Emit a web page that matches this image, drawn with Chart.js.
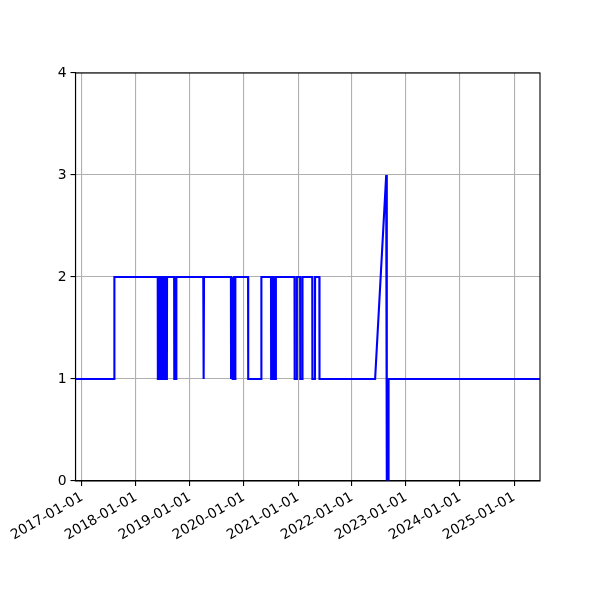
<!DOCTYPE html>
<html>
<head>
<meta charset="utf-8">
<script src="https://cdn.jsdelivr.net/npm/chart.js@4/dist/chart.umd.min.js"></script>
<style>
html,body{margin:0;padding:0;background:#fff;}
#wrap{width:600px;height:600px;}
</style>
</head>
<body>
<div id="wrap"><canvas id="c" width="600" height="600"></canvas></div>
<script>
// ---- data ----
const dates = [
  "2016-11-18","2017-08-07","2017-08-08",
  "2018-05-28","2018-05-29","2018-06-04","2018-06-05","2018-06-08","2018-06-09",
  "2018-06-15","2018-06-16","2018-06-20","2018-06-21","2018-06-30","2018-07-01",
  "2018-07-04","2018-07-05","2018-07-12","2018-07-13","2018-07-18","2018-07-19",
  "2018-07-29","2018-07-30",
  "2018-09-16","2018-09-17","2018-09-30","2018-10-01",
  "2019-04-01","2019-04-02","2019-04-05","2019-04-06",
  "2019-10-05","2019-10-06","2019-10-12","2019-10-13","2019-10-16","2019-10-17",
  "2019-10-24","2019-10-25","2019-10-28","2019-10-29","2019-11-03","2019-11-04",
  "2020-01-29","2020-01-30","2020-04-27","2020-04-28",
  "2020-07-02","2020-07-03","2020-07-10","2020-07-11","2020-07-20","2020-07-21",
  "2020-08-03","2020-08-04",
  "2020-12-08","2020-12-09","2020-12-23","2020-12-24",
  "2021-01-15","2021-01-16","2021-01-30","2021-01-31",
  "2021-04-07","2021-04-08","2021-04-25","2021-04-26",
  "2021-05-25","2021-05-26",
  "2022-06-06","2022-08-20","2022-08-24","2022-09-04","2022-09-05",
  "2025-06-25"
];
const values = [
  1,1,2,
  2,1,1,2,2,1,
  1,2,2,1,1,2,
  2,1,1,2,2,1,
  1,2,
  2,1,1,2,
  2,1,1,2,
  2,1,1,2,2,1,
  1,2,2,1,1,2,
  2,1,1,2,
  2,1,1,2,2,1,
  1,2,
  2,1,1,2,
  2,1,1,2,
  2,1,1,2,
  2,1,
  1,3,0,0,1,
  1
];
const tickYears = [2017,2018,2019,2020,2021,2022,2023,2024,2025];
const xMinDate = "2016-11-18";
const xMaxDate = "2025-06-25";
const yTicks = [0,1,2,3,4];

// ---- chart ----
const toMs = s => Date.parse(s + "T00:00:00Z");
const pts = dates.map((d,i)=>({x: toMs(d), y: values[i]}));
const pad2 = n => String(n).padStart(2,"0");
const fmt = ms => { const d = new Date(ms); return d.getUTCFullYear()+"-"+pad2(d.getUTCMonth()+1)+"-"+pad2(d.getUTCDate()); };

Chart.defaults.font.family = "'DejaVu Sans', sans-serif";
Chart.defaults.font.size = 13.9;
Chart.defaults.color = "#000";

const frame = {
  id: "frame",
  afterDraw(chart){
    const {ctx, chartArea:a} = chart;
    ctx.save();
    ctx.strokeStyle = "#000";
    ctx.lineWidth = 1.1;
    ctx.strokeRect(a.left, a.top, a.right - a.left, a.bottom - a.top);
    ctx.restore();
  }
};

new Chart(document.getElementById("c"), {
  type: "line",
  data: { datasets: [{
    data: pts,
    borderColor: "#0000ff",
    borderWidth: 2.1,
    pointRadius: 0,
    tension: 0,
    fill: false
  }]},
  options: {
    responsive: false,
    animation: false,
    devicePixelRatio: 1,
    parsing: false,
    plugins: { legend: {display:false}, tooltip: {enabled:false} },
    layout: { padding: { left: 0, top: 73, right: 60, bottom: 0 } },
    scales: {
      x: {
        type: "linear",
        min: toMs(xMinDate),
        max: toMs(xMaxDate),
        afterBuildTicks: s => { s.ticks = tickYears.map(y => ({value: Date.UTC(y,0,1)})); },
        afterFit: s => { s.height = 119; },
        ticks: { autoSkip: false, minRotation: 30, maxRotation: 30, padding: 3, callback: v => fmt(v) },
        grid: { color: "#b0b0b0", lineWidth: 1.1, tickColor: "#000", tickLength: 5 },
        border: { color: "#000", width: 1.1 }
      },
      y: {
        min: 0, max: 4,
        afterBuildTicks: s => { s.ticks = yTicks.map(v => ({value: v})); },
        afterFit: s => { s.width = 75.5; },
        ticks: { padding: 4, callback: v => String(v) },
        grid: { color: "#b0b0b0", lineWidth: 1.1, tickColor: "#000", tickLength: 5 },
        border: { color: "#000", width: 1.1 }
      }
    }
  },
  plugins: [frame]
});
</script>
</body>
</html>
